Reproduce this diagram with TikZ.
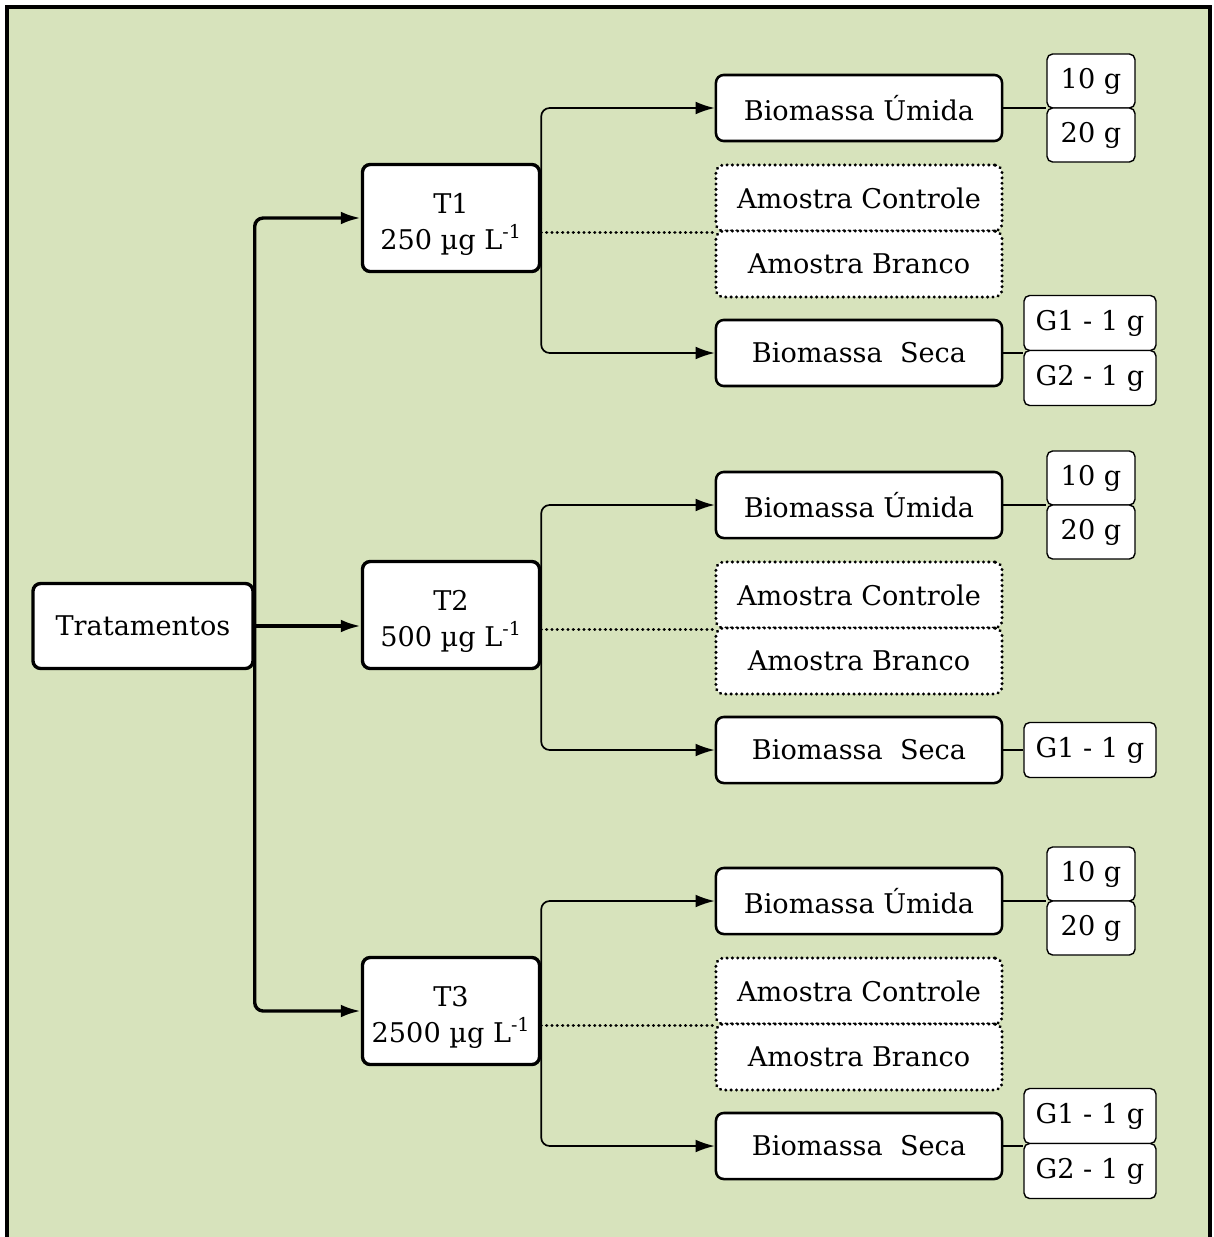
\documentclass[tikz,border=0pt]{standalone}
\usepackage{fontspec}
\setmainfont{DejaVu Serif}
\usetikzlibrary{arrows.meta,positioning}

\definecolor{fundo}{RGB}{215,227,188}

\tikzset{
  caixa/.style={draw, fill=white, rounded corners=5.5pt, align=center, inner sep=0pt},
  caixa grossa/.style={caixa, line width=2.4pt},
  caixa media/.style={caixa, line width=1.8pt, minimum width=7.15cm, minimum height=1.65cm},
  caixa pontos/.style={caixa, line width=2.3pt, dash pattern=on 0.1pt off 3.7pt, line cap=round,
    minimum width=7.15cm, minimum height=1.65cm},
  caixa peq/.style={caixa, line width=1pt, rounded corners=4pt},
  seta grossa/.style={line width=2.4pt, rounded corners=6pt, -{Latex[length=0.5cm,width=0.32cm]}},
  seta/.style={line width=1.2pt, rounded corners=6pt, -{Latex[length=0.48cm,width=0.32cm]}},
  pontilhado/.style={line width=2.3pt, dash pattern=on 0.1pt off 3.7pt, line cap=round},
  ligacao/.style={line width=1pt}
}

\begin{document}
\begin{tikzpicture}[x=0.025cm, y=-0.025cm, font=\fontsize{19.3}{25}\selectfont]
  % Fundo e moldura
  \clip (0,0) rectangle (1214,1237);
  \fill[white] (0,0) rectangle (1214,1237);
  \draw[line width=0.1cm, fill=fundo] (7,7) rectangle (1210,1300);

  % Caixa principal
  \node[caixa grossa, minimum width=5.5cm, minimum height=2.125cm] (trat) at (143,626) {Tratamentos};

  % Os tres tratamentos
  \foreach \i/\y/\dose in {1/218/250, 2/615/500, 3/1011/2500} {
    \node[caixa grossa, minimum width=4.425cm, minimum height=2.675cm, text height=1.55cm, text depth=0pt] (t\i) at (451,\y)
      {T\i\\\dose\ µg L\textsuperscript{-1}};
    \node[caixa media] (um\i) at (859,\y-110) {Biomassa Úmida};
    \node[caixa pontos] (ctl\i) at (859,\y-20) {Amostra Controle};
    \node[caixa pontos] (bco\i) at (859,\y+46) {Amostra Branco};
    \node[caixa media] (seca\i) at (859,\y+135) {Biomassa~ Seca};

    % Massas da biomassa umida
    \node[caixa peq, minimum width=2.2cm, minimum height=1.35cm] (dez\i) at (1091,\y-137) {10 g};
    \node[caixa peq, minimum width=2.2cm, minimum height=1.35cm] (vinte\i) at (1091,\y-83) {20 g};

    \draw[seta] (t\i.east) |- (um\i.west);
    \draw[seta] (t\i.east) |- (seca\i.west);
    \draw[pontilhado] (t\i.east |- ctl\i.south) -- (ctl\i.south west);
    \draw[ligacao] (um\i.east) -- (um\i.east -| dez\i.west);
  }

  % Grupos da biomassa seca
  \node[caixa peq, minimum width=3.3cm, minimum height=1.375cm] (ga1) at (1090,323) {G1 - 1 g};
  \node[caixa peq, minimum width=3.3cm, minimum height=1.375cm] (gb1) at (1090,378) {G2 - 1 g};
  \node[caixa peq, minimum width=3.3cm, minimum height=1.375cm] (ga2) at (1090,750) {G1 - 1 g};
  \node[caixa peq, minimum width=3.3cm, minimum height=1.375cm] (ga3) at (1090,1116) {G1 - 1 g};
  \node[caixa peq, minimum width=3.3cm, minimum height=1.375cm] (gb3) at (1090,1171) {G2 - 1 g};

  \draw[ligacao] (seca1.east) -- (seca1.east -| ga1.west);
  \draw[ligacao] (seca2.east) -- (ga2.west);
  \draw[ligacao] (seca3.east) -- (seca3.east -| ga3.west);

  % Setas dos tratamentos
  \draw[seta grossa] (trat.east) |- (t1.west);
  \draw[seta grossa] (trat.east) -- (trat.east -| t2.west);
  \draw[seta grossa] (trat.east) |- (t3.west);
\end{tikzpicture}
\end{document}
